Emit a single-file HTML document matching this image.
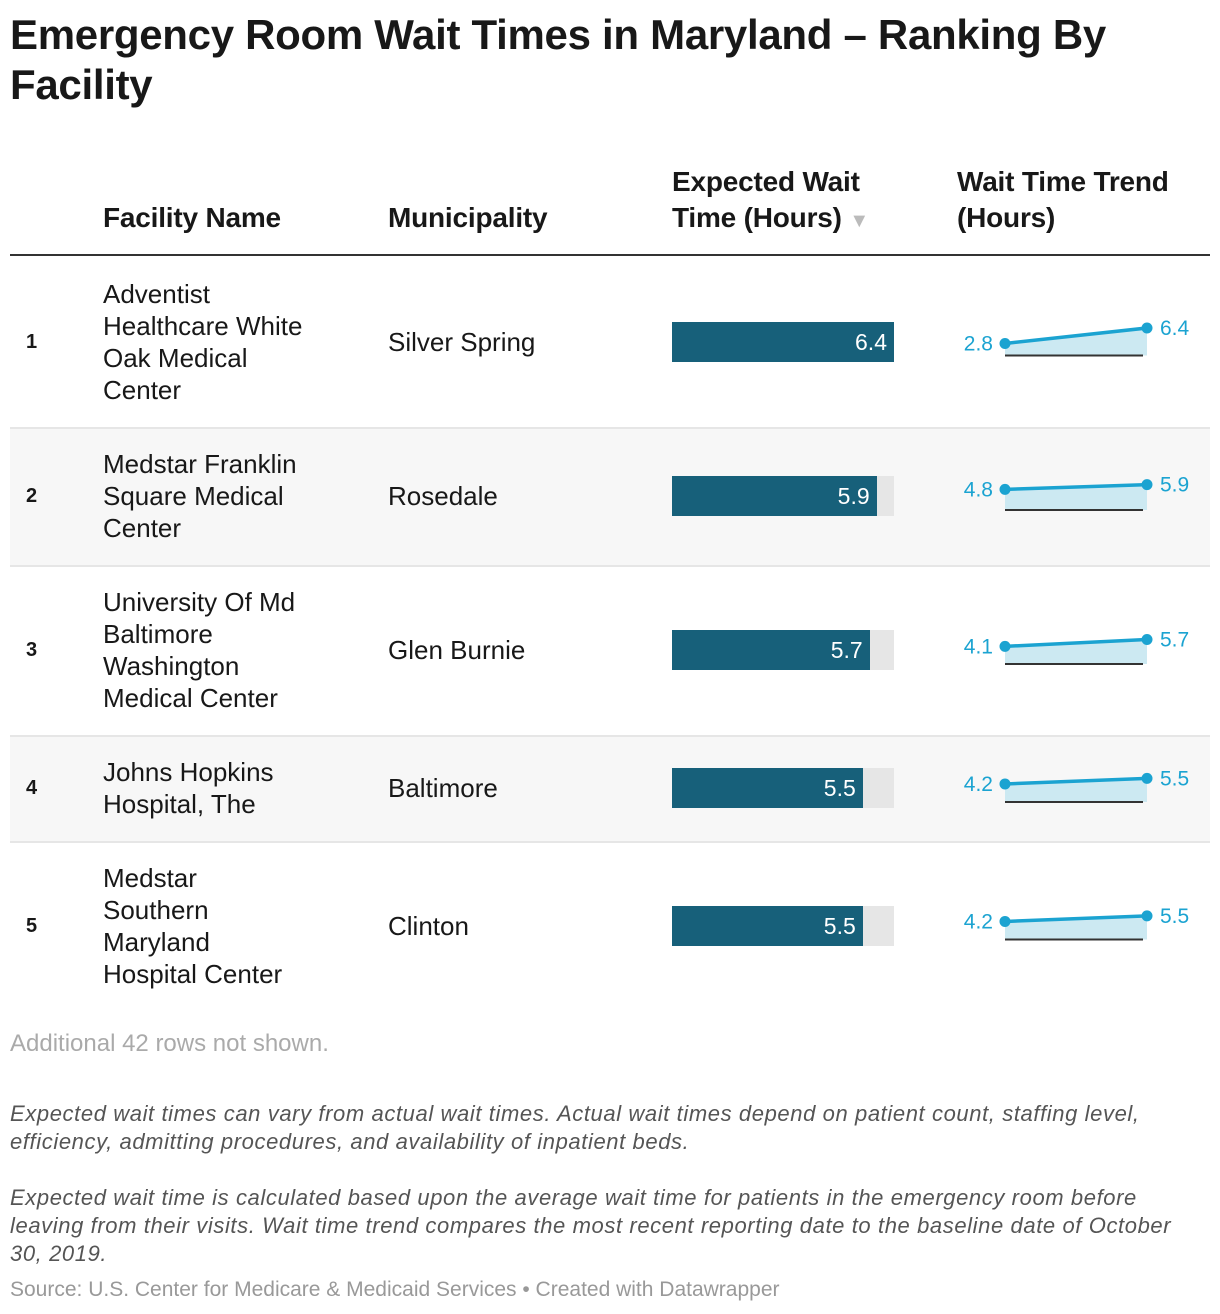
<!DOCTYPE html>
<html><head><meta charset="utf-8">
<style>
body{margin:0;width:1220px;height:1314px;background:#fff;font-family:"Liberation Sans",sans-serif;color:#181818;position:relative;overflow:hidden}
.a{position:absolute}
h1{position:absolute;left:10px;top:10px;margin:0;font-size:42px;line-height:50px;font-weight:bold;width:1200px;letter-spacing:-0.3px}
.th{position:absolute;font-size:28px;font-weight:bold;line-height:36px;letter-spacing:-0.2px}
.name{position:absolute;left:103px;font-size:26px;line-height:32px;width:250px}
.muni{position:absolute;left:388px;font-size:26px}
.rank{position:absolute;left:26px;font-size:20px;font-weight:bold}
.note{position:absolute;left:10px;font-size:22px;font-style:italic;color:#555;line-height:28px;width:1210px;white-space:nowrap;letter-spacing:0.6px}
</style></head><body>
<h1>Emergency Room Wait Times in Maryland – Ranking By Facility</h1>
<div class="th" style="left:103px;top:200px">Facility Name</div>
<div class="th" style="left:388px;top:200px">Municipality</div>
<div class="th" style="left:672px;top:164px">Expected Wait<br>Time (Hours) <span style="color:#bbb;font-size:20px">▼</span></div>
<div class="th" style="left:957px;top:164px">Wait Time Trend<br>(Hours)</div>
<div class="a" style="left:10px;top:254px;width:1200px;height:3px;background:#333"></div>
<div id="rows"></div>
<div class="a" style="left:10px;top:1030px;font-size:24px;color:#aaa">Additional 42 rows not shown.</div>
<div class="note" style="top:1100px">Expected wait times can vary from actual wait times. Actual wait times depend on patient count, staffing level,<br>efficiency, admitting procedures, and availability of inpatient beds.</div>
<div class="note" style="top:1184px">Expected wait time is calculated based upon the average wait time for patients in the emergency room before<br>leaving from their visits. Wait time trend compares the most recent reporting date to the baseline date of October<br>30, 2019.</div>
<div class="a" style="left:10px;top:1278px;font-size:21px;color:#999">Source: U.S. Center for Medicare &amp; Medicaid Services • Created with Datawrapper</div>
<script>
const names=["Adventist<br>Healthcare White<br>Oak Medical<br>Center","Medstar Franklin<br>Square Medical<br>Center","University Of Md<br>Baltimore<br>Washington<br>Medical Center","Johns Hopkins<br>Hospital, The","Medstar<br>Southern<br>Maryland<br>Hospital Center"];
const municipalities=["Silver Spring","Rosedale","Glen Burnie","Baltimore","Clinton"];
const waitTimes=[6.4,5.9,5.7,5.5,5.5];
const trendStart=[2.8,4.8,4.1,4.2,4.2];
const trendEnd=[6.4,5.9,5.7,5.5,5.5];
const rowTops=[256,427,565,735,841,1010];
const maxWait=6.4,barW=222,barX=672;
const yScale=v=>v*4.3;
const root=document.getElementById('rows');
for(let i=0;i<5;i++){
  const t=rowTops[i],b=rowTops[i+1],c=(t+b)/2;
  const row=document.createElement('div');
  
  
  row.className='a';
  row.style.cssText=`left:10px;top:${t}px;width:1200px;height:${b-t}px;background:${i%2?'#f7f7f7':'#fff'};${i>0?'border-top:2px solid #e6e6e6;box-sizing:border-box;':''}`;
  root.appendChild(row);
  const r=document.createElement('div');r.className='rank';r.style.top=(c-11)+'px';r.textContent=i+1;
  
  
  root.appendChild(r);
  const n=document.createElement('div');n.className='name';n.innerHTML=names[i];
  const lines=names[i].split('<br>').length;n.style.top=(c-lines*16)+'px';
  
  
  root.appendChild(n);
  const m=document.createElement('div');m.className='muni';m.style.top=(c-15)+'px';m.textContent=municipalities[i];
  
  
  root.appendChild(m);
  const bg=document.createElement('div');bg.className='a';bg.style.cssText=`left:${barX}px;top:${c-20}px;width:${barW}px;height:40px;background:#e6e6e6`;
  
  
  root.appendChild(bg);
  const w=waitTimes[i]/maxWait*barW;
  const bar=document.createElement('div');bar.className='a';
  bar.style.cssText=`left:${barX}px;top:${c-20}px;width:${w}px;height:40px;background:#17607a;color:#fff;font-size:23px;line-height:40px;text-align:right;box-sizing:border-box;padding-right:7px`;
  bar.textContent=waitTimes[i].toFixed(1);
  
  
  root.appendChild(bar);
  const base=c+14,x0=1005,x1=1147;
  const y0=base-yScale(trendStart[i]),y1=base-yScale(trendEnd[i]);
  const svg=document.createElementNS('http://www.w3.org/2000/svg','svg');
  svg.setAttribute('width','1220');svg.setAttribute('height','1314');
  svg.style.cssText='position:absolute;left:0;top:0;overflow:visible';
  
  
  svg.innerHTML=`<polygon points="${x0},${y0} ${x1},${y1} ${x1},${base} ${x0},${base}" fill="#cce9f2"/>
<line x1="${x0}" y1="${base}" x2="${x1-4}" y2="${base}" stroke="#333" stroke-width="2"/>
<line x1="${x0}" y1="${y0}" x2="${x1}" y2="${y1}" stroke="#1ba3d1" stroke-width="3.5"/>
<circle cx="${x0}" cy="${y0}" r="5.5" fill="#1ba3d1"/><circle cx="${x1}" cy="${y1}" r="5.5" fill="#1ba3d1"/>
<text x="${x0-12}" y="${y0+7}" text-anchor="end" font-size="21" fill="#1ba3d1" font-family="Liberation Sans">${trendStart[i].toFixed(1)}</text>
<text x="${x1+13}" y="${y1+7}" font-size="21" fill="#1ba3d1" font-family="Liberation Sans">${trendEnd[i].toFixed(1)}</text>`;
  root.appendChild(svg);
}
</script>
</body></html>
